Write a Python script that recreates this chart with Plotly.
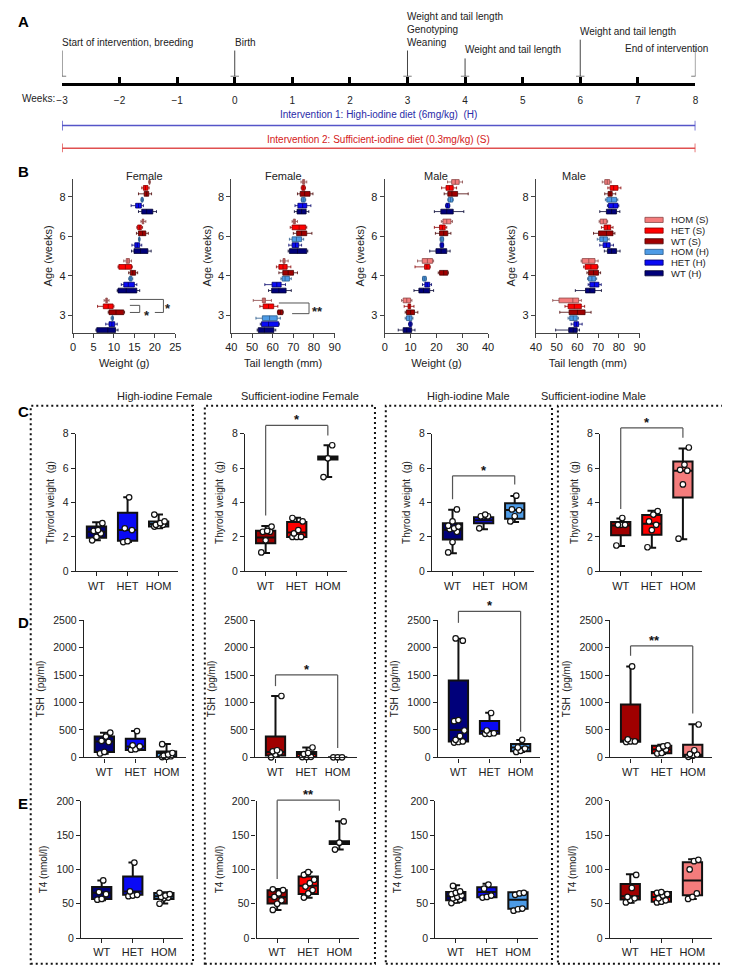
import plotly.graph_objects as go
import numpy as np

W, H = 730, 967
FONT = "Arial, 'Liberation Sans', Helvetica, sans-serif"

# ---------------- Panel A: timeline ----------------
weeks = list(range(-3, 9))
event_weeks = [-3, 0, 3, 4, 6, 8]
event_texts = ["Start of intervention, breeding", "Birth",
               "Weight and tail length<br>Genotyping<br>Weaning",
               "Weight and tail length", "Weight and tail length",
               "End of intervention"]
intervention_texts = ["Intervention 1: High-iodine diet (6mg/kg)  (H)",
                      "Intervention 2: Sufficient-iodine diet (0.3mg/kg) (S)"]
intervention_span = [-3, 8]

# ---------------- Panel B ----------------
ages = ["3", "4", "6", "8"]
groups = ["HOM (S)", "HET (S)", "WT (S)", "HOM (H)", "HET (H)", "WT (H)"]
# [age][group] = [min, q1, median, q3, max]
b_female_weight = [
    [[7.6, 8.0, 8.2, 8.4, 8.8], [6.0, 7.4, 8.6, 9.8, 10.0], [8.6, 8.8, 10.5, 12.4, 12.6],
     [9.3, 9.5, 9.6, 9.8, 9.9], [8.0, 8.8, 9.5, 10.2, 10.8], [5.6, 5.8, 8.5, 10.4, 11.0]],
    [[12.4, 13.0, 13.4, 13.8, 14.3], [11.0, 11.2, 12.8, 14.3, 14.5], [13.6, 14.0, 14.6, 15.3, 15.8],
     [13.6, 13.8, 14.1, 14.4, 14.6], [11.8, 12.4, 13.5, 15.0, 15.6], [10.8, 11.0, 13.0, 15.6, 16.3]],
    [[16.6, 16.9, 17.1, 17.3, 17.8], [15.6, 15.8, 16.3, 16.7, 17.0], [15.5, 16.0, 17.0, 17.8, 18.4],
     [16.0, 16.1, 16.2, 16.3, 16.4], [14.4, 15.1, 15.7, 16.3, 16.8], [14.3, 14.9, 16.5, 18.3, 19.1]],
    [[18.5, 18.6, 18.7, 18.8, 18.9], [16.8, 17.2, 17.7, 18.3, 18.6], [16.0, 17.4, 18.0, 18.5, 19.2],
     [16.6, 16.7, 16.9, 17.1, 17.2], [14.2, 15.3, 16.0, 16.7, 17.2], [16.0, 16.8, 18.0, 19.5, 20.4]],
]
b_female_tail = [
    [[50.6, 55.0, 55.8, 56.5, 59.4], [53.8, 55.4, 58.0, 60.5, 62.5], [62.3, 62.5, 63.7, 64.9, 65.1],
     [51.9, 55.0, 58.5, 62.2, 63.7], [54.0, 54.6, 58.0, 62.9, 63.2], [52.5, 53.0, 56.0, 60.6, 61.5]],
    [[63.7, 65.0, 65.5, 66.0, 67.5], [61.8, 63.0, 65.0, 67.0, 68.8], [63.0, 64.9, 67.5, 70.1, 72.0],
     [64.0, 64.6, 66.0, 68.1, 69.0], [56.2, 59.7, 62.0, 64.1, 66.2], [58.0, 59.5, 63.0, 66.5, 69.0]],
    [[69.4, 70.0, 70.5, 71.0, 72.0], [68.5, 69.4, 72.8, 76.0, 76.5], [70.0, 71.6, 74.0, 76.5, 79.0],
     [68.1, 69.4, 71.5, 74.0, 75.0], [67.8, 69.4, 71.0, 72.6, 74.0], [67.5, 68.1, 72.0, 76.5, 77.0]],
    [[73.7, 74.5, 75.0, 75.5, 76.5], [73.8, 74.1, 74.8, 75.6, 75.9], [72.0, 73.3, 75.5, 78.1, 79.5],
     [73.8, 74.0, 74.8, 75.7, 76.0], [70.8, 72.2, 74.5, 76.5, 78.5], [70.5, 71.8, 74.0, 76.2, 77.5]],
]
b_male_weight = [
    [[6.5, 7.1, 8.5, 10.0, 10.5], [7.5, 9.0, 9.5, 10.0, 11.3], [7.9, 8.4, 10.0, 11.5, 12.8],
     [7.9, 8.4, 9.5, 10.5, 10.9], [9.2, 9.4, 9.9, 10.4, 10.6], [5.2, 7.1, 8.5, 10.4, 11.7]],
    [[12.7, 14.5, 16.5, 18.5, 18.9], [11.7, 15.4, 16.3, 17.4, 17.6], [20.7, 21.2, 22.8, 24.4, 24.6],
     [14.6, 14.7, 15.3, 16.0, 16.1], [14.6, 15.5, 16.4, 17.4, 18.1], [11.3, 13.2, 15.0, 17.4, 18.9]],
    [[21.9, 22.5, 24.0, 25.6, 26.2], [19.2, 21.2, 22.3, 23.4, 24.0], [19.6, 21.2, 22.8, 24.4, 25.6],
     [21.4, 21.5, 22.1, 22.7, 22.8], [21.4, 21.5, 22.1, 22.7, 22.8], [17.4, 19.8, 21.8, 24.0, 25.3]],
    [[24.3, 25.9, 27.3, 28.8, 30.1], [22.0, 23.7, 25.0, 26.5, 27.8], [23.0, 24.4, 26.0, 28.2, 32.3],
     [24.4, 24.6, 25.4, 26.3, 26.5], [23.5, 23.7, 24.3, 25.0, 25.2], [19.2, 21.7, 24.0, 26.5, 30.6]],
]
b_male_tail = [
    [[48.1, 51.1, 57.8, 60.6, 61.9], [54.0, 55.5, 58.5, 61.9, 63.5], [51.5, 56.0, 60.0, 63.7, 66.6],
     [55.5, 56.3, 58.0, 59.9, 60.5], [57.0, 58.3, 59.5, 60.6, 62.3], [49.5, 55.8, 58.0, 59.9, 61.0]],
    [[61.8, 62.3, 65.5, 68.5, 70.0], [63.0, 63.7, 66.5, 69.7, 70.0], [64.6, 65.4, 67.8, 70.2, 71.2],
     [64.9, 65.4, 67.0, 68.7, 69.3], [65.2, 66.0, 68.2, 70.4, 71.5], [59.0, 63.9, 66.0, 68.5, 71.6]],
    [[70.5, 71.0, 72.5, 74.2, 74.6], [71.6, 72.9, 74.5, 76.1, 77.2], [67.8, 70.2, 74.0, 77.2, 78.1],
     [69.6, 70.8, 72.5, 74.5, 75.3], [70.8, 72.4, 74.0, 75.8, 77.4], [73.0, 74.5, 76.5, 78.9, 80.6]],
    [[72.0, 73.2, 74.4, 75.6, 76.3], [74.7, 75.8, 77.5, 79.6, 81.0], [73.2, 74.8, 75.8, 76.8, 78.5],
     [73.5, 74.2, 76.5, 78.9, 79.5], [74.5, 75.0, 77.3, 79.6, 80.0], [70.8, 74.0, 76.5, 78.9, 80.5]],
]

# ---------------- Panels C-E ----------------
genotypes = ["WT", "HET", "HOM"]
column_titles = ["High-iodine Female", "Sufficient-iodine Female",
                 "High-iodine Male", "Sufficient-iodine Male"]
# stats per genotype: [min, q1, median, q3, max]
tw_HF_stats = [[1.8, 1.95, 2.3, 2.6, 2.85], [1.7, 1.78, 2.4, 3.4, 4.3], [2.5, 2.6, 2.75, 2.9, 3.3]]
tw_HF_pts = [[1.8, 2.0, 2.2, 2.35, 2.4, 2.8], [1.7, 1.75, 2.4, 2.5, 4.3], [2.6, 2.65, 2.7, 2.7, 2.8, 2.9, 3.3]]
tw_SF_stats = [[1.07, 1.63, 1.97, 2.36, 2.64], [2.0, 2.0, 2.26, 2.87, 3.12], [5.48, 6.5, 6.57, 6.68, 7.33]]
tw_SF_pts = [[1.1, 1.8, 2.3, 2.3, 2.35, 2.6], [2.0, 2.0, 2.0, 2.2, 2.4, 2.9, 3.1], [5.48, 6.57, 7.33]]
tw_HM_stats = [[1.05, 1.85, 2.42, 2.8, 3.58], [2.44, 2.8, 2.97, 3.14, 3.27], [2.86, 3.05, 3.56, 3.96, 4.38]]
tw_HM_pts = [[1.1, 1.7, 2.3, 2.45, 2.5, 2.6, 2.65, 2.9, 3.6], [2.5, 3.2, 3.2, 3.2, 3.3], [2.9, 3.2, 3.55, 3.6, 4.4]]
tw_SM_stats = [[1.47, 2.1, 2.67, 2.86, 3.07], [1.37, 2.13, 2.76, 3.27, 3.52], [1.87, 4.29, 5.85, 6.38, 7.14]]
tw_SM_pts = [[1.5, 2.7, 2.7, 2.7, 3.1], [1.4, 2.4, 2.7, 2.9, 3.3, 3.5], [1.9, 5.05, 5.85, 5.9, 6.2, 7.2]]

tsh_HF_stats = [[67, 97, 290, 379, 451], [130, 135, 199, 338, 482], [0, 7, 79, 108, 242]]
tsh_HF_pts = [[70, 100, 280, 300, 380, 450], [140, 150, 200, 220, 480], [5, 10, 20, 30, 50, 80, 240]]
tsh_SF_stats = [[0, 36, 97, 379, 1119], [5, 7, 60, 97, 180], [0, 0, 0, 0, 0]]
tsh_SF_pts = [[0, 50, 90, 110, 130, 1120], [5, 5, 10, 60, 80, 180], [0, 0, 0]]
tsh_HM_stats = [[260, 289, 500, 1402, 2166], [422, 430, 482, 662, 812], [97, 110, 180, 242, 319]]
tsh_HM_pts = [[270, 280, 290, 320, 390, 490, 660, 680, 2130, 2170], [430, 430, 440, 490, 810], [100, 120, 160, 180, 320]]
tsh_SM_stats = [[278, 285, 295, 964, 1660], [61, 75, 144, 210, 229], [7, 10, 49, 229, 603]]
tsh_SM_pts = [[280, 290, 290, 330, 1660], [70, 80, 140, 160, 200, 220], [10, 30, 50, 60, 130, 600]]

t4_HF_stats = [[55, 57, 66, 74.4, 84], [61, 63, 68, 89.8, 110], [50.4, 57, 61, 65.8, 66.8]]
t4_HF_pts = [[56, 57, 64, 67, 84], [61, 62, 63, 68, 110], [50, 58, 59, 60, 62, 64, 66]]
t4_SF_stats = [[40.9, 50.4, 60, 69.6, 71.5], [58.6, 64.3, 76.3, 89.8, 96.4], [129, 137, 139.2, 141, 170.4]]
t4_SF_pts = [[41, 50, 55, 60, 65, 70, 71], [59, 65, 70, 75, 80, 85, 92, 96], [129, 139, 170]]
t4_HM_stats = [[51.4, 55.3, 61, 67.2, 76.8], [59.6, 59.6, 67.2, 74, 79], [40.3, 42.7, 56, 66.8, 66.8]]
t4_HM_pts = [[51, 55, 56, 58, 60, 62, 64, 66, 68, 76], [59, 60, 62, 72, 78], [40, 42, 43, 63, 65, 66]]
t4_SM_stats = [[51.4, 56.1, 61, 78.7, 93.1], [52.8, 52.8, 60, 67.2, 67.2], [57, 62.4, 84, 110.4, 115]]
t4_SM_pts = [[52, 55, 58, 60, 73, 92], [52, 53, 55, 58, 62, 64, 66, 67], [57, 60, 65, 100, 112, 114]]

# ---------------- styling ----------------
group_colors = ["#F47C7C", "#FF0000", "#A00000", "#4D9BE6", "#0A0AF5", "#00007A"]
group_edges = ["#8a4848", "#8a0000", "#4a0000", "#2a5a8a", "#00006a", "#000030"]
pal_H = ["#00007A", "#0A0AF5", "#4D9BE6"]
pal_S = ["#A00000", "#FF0000", "#F47C7C"]

fig = go.Figure()
layout = dict(width=W, height=H, margin=dict(l=0, r=0, t=0, b=0),
              paper_bgcolor="white", plot_bgcolor="white", showlegend=False,
              barmode="overlay", font=dict(family=FONT, size=10, color="#222"))
shapes, annots = [], []
ax_n = [0]


def add_axes(xpx, ypx, xo, yo):
    ax_n[0] += 1
    n = ax_n[0]
    s = "" if n == 1 else str(n)
    xd = dict(domain=[xpx[0] / W, xpx[1] / W], anchor="y" + s, showgrid=False, zeroline=False)
    xd.update(xo)
    yd = dict(domain=[1 - ypx[1] / H, 1 - ypx[0] / H], anchor="x" + s, showgrid=False, zeroline=False)
    yd.update(yo)
    layout["xaxis" + s] = xd
    layout["yaxis" + s] = yd
    return "x" + s, "y" + s


def paper_y(py):
    return 1 - py / H


def paper_x(px):
    return px / W


# ---------------- Panel A ----------------
xa, ya = add_axes((48.8, 692.8), (0, 140),
                  dict(range=[-3, 8], anchor="free", position=paper_y(71), showline=True,
                       linewidth=3, linecolor="black", ticks="inside", ticklen=6, tickwidth=2.5,
                       tickcolor="black", tickvals=weeks, tickfont=dict(size=10, color="#222"),
                       ticklabelstandoff=6),
                  dict(range=[140, 0], visible=False))
line_tops = [37, 37, 37, 45, 26, 32]
for w, txt, top in zip(event_weeks, event_texts, line_tops):
    fig.add_trace(go.Scatter(x=[w, w], y=[top, 63], mode="lines+markers", xaxis=xa, yaxis=ya,
                             line=dict(color="#444", width=1),
                             marker=dict(symbol="line-ew", size=[0, 6], line=dict(color="#444", width=1)),
                             hoverinfo="skip"))
    if w == 8:
        annots.append(dict(x=w, y=top + 3, xref=xa, yref=ya, text=txt, showarrow=False,
                           xanchor="right", yanchor="middle", xshift=15, font=dict(size=10)))
    else:
        annots.append(dict(x=w, y=top - 1, xref=xa, yref=ya, text=txt, showarrow=False,
                           xanchor="left", yanchor="bottom", xshift=-2, align="left",
                           font=dict(size=10)))
annots.append(dict(x=paper_x(44), y=paper_y(86), xref="paper", yref="paper", text="Weeks:",
                   showarrow=False, xanchor="right", yanchor="middle", font=dict(size=10)))
for txt, ty, ly, tc, lc in [(intervention_texts[0], 102, 113, "#2a2aa8", "#5555c8"),
                            (intervention_texts[1], 127, 136, "#d42020", "#e05050")]:
    fig.add_trace(go.Scatter(x=intervention_span, y=[ly, ly], mode="lines+markers", xaxis=xa, yaxis=ya,
                             line=dict(color=lc, width=1.5),
                             marker=dict(symbol="line-ns", size=7, line=dict(color=lc, width=1.5)),
                             hoverinfo="skip"))
    annots.append(dict(x=2.5, y=ty, xref=xa, yref=ya, text=txt, showarrow=False,
                       font=dict(size=10, color=tc)))

# ---------------- Panel B ----------------
offsets = [0.375, 0.225, 0.075, -0.075, -0.225, -0.375]
b_specs = [
    (b_female_weight, (60, 164), [0, 25], 5, "Female", "Weight (g)"),
    (b_female_tail, (221, 326), [40, 90], 10, "Female", "Tail length (mm)"),
    (b_male_weight, (377, 482), [0, 40], 10, "Male", "Weight (g)"),
    (b_male_tail, (530.7, 636), [40, 90], 10, "Male", "Tail length (mm)"),
]
b_axes = []
for data, xpx, xr, dt, title, xtitle in b_specs:
    bx, by = add_axes(xpx, (166.7, 323),
                      dict(range=xr, dtick=dt, showline=True, linecolor="#444", linewidth=1.3,
                           ticks="outside", ticklen=4, tickcolor="#444", tickfont=dict(size=11),
                           title=dict(text=xtitle, font=dict(size=11), standoff=6)),
                      dict(range=[-0.45, 3.46], tickvals=[0, 1, 2, 3], ticktext=ages, showline=True,
                           linecolor="#444", linewidth=1.3, ticks="outside", ticklen=4,
                           tickcolor="#444", tickfont=dict(size=11),
                           title=dict(text="Age (weeks)", font=dict(size=11), standoff=4)))
    b_axes.append((bx, by))
    annots.append(dict(x=paper_x((xpx[0] + xpx[1]) / 2), y=paper_y(156), xref="paper", yref="paper",
                       text=title, showarrow=False, font=dict(size=11)))
    for k in range(len(ages)):
        for g in range(len(groups)):
            mn, q1, md, q3, mx = data[k][g]
            fig.add_trace(go.Box(orientation="h", y=[k + offsets[g]], q1=[q1], median=[md], q3=[q3],
                                 lowerfence=[mn], upperfence=[mx], width=0.12, whiskerwidth=0.6,
                                 fillcolor=group_colors[g], line=dict(color=group_edges[g], width=0.8),
                                 boxpoints=False, xaxis=bx, yaxis=by, hoverinfo="skip"))

# B brackets
bx1, by1 = b_axes[0]
for pts in ([(13.9, 0.4), (22.1, 0.4), (22.1, 0.07), (20.0, 0.07)],
            [(13.9, 0.25), (16.3, 0.25), (16.3, 0.07), (13.9, 0.07)]):
    for (x0, y0), (x1, y1) in zip(pts[:-1], pts[1:]):
        shapes.append(dict(type="line", xref=bx1, yref=by1, x0=x0, y0=y0, x1=x1, y1=y1,
                           line=dict(color="#555", width=1)))
annots.append(dict(x=23.3, y=0.25, xref=bx1, yref=by1, text="<b>*</b>", showarrow=False,
                   font=dict(size=13), yshift=-3))
annots.append(dict(x=18.0, y=0.08, xref=bx1, yref=by1, text="<b>*</b>", showarrow=False,
                   font=dict(size=13), yshift=-3))
bx2, by2 = b_axes[1]
pts = [(63.0, 0.31), (77.6, 0.31), (77.6, 0.04), (69.4, 0.04)]
for (x0, y0), (x1, y1) in zip(pts[:-1], pts[1:]):
    shapes.append(dict(type="line", xref=bx2, yref=by2, x0=x0, y0=y0, x1=x1, y1=y1,
                       line=dict(color="#555", width=1)))
annots.append(dict(x=81.5, y=0.17, xref=bx2, yref=by2, text="<b>**</b>", showarrow=False,
                   font=dict(size=13), yshift=-3))

# legend (custom, compact)
lx, ly = add_axes((638, 728), (202, 268), dict(range=[638, 728], visible=False),
                  dict(range=[268, 202], visible=False))
legend_y = [208.5, 219.3, 230.1, 240.9, 251.7, 262.5]
for g, yy in enumerate(legend_y):
    fig.add_trace(go.Bar(orientation="h", y=[yy], x=[18.5], base=[641.5], width=5.2,
                         marker=dict(color=group_colors[g], line=dict(color=group_edges[g], width=0.8)),
                         xaxis=lx, yaxis=ly, hoverinfo="skip"))
    annots.append(dict(x=666, y=yy, xref=lx, yref=ly, text=groups[g], showarrow=False,
                       xanchor="left", yanchor="middle", font=dict(size=9.5)))

# ---------------- Panels C-E ----------------
rows = [
    dict(ypx=(425, 564.3), rng=[0, 8], dtick=2, title="Thyroid weight  (g)", left=[63, 235, 425, 596],
         stats=[tw_HF_stats, tw_SF_stats, tw_HM_stats, tw_SM_stats],
         pts=[tw_HF_pts, tw_SF_pts, tw_HM_pts, tw_SM_pts]),
    dict(ypx=(614, 752.7), rng=[0, 2500], dtick=500, title="TSH  (pg/ml)", left=[71, 245, 431, 606],
         stats=[tsh_HF_stats, tsh_SF_stats, tsh_HM_stats, tsh_SM_stats],
         pts=[tsh_HF_pts, tsh_SF_pts, tsh_HM_pts, tsh_SM_pts]),
    dict(ypx=(796.7, 935.7), rng=[0, 200], dtick=50, title="T4 (nmol/l)", left=[68.3, 246.7, 428.3, 605.7],
         stats=[t4_HF_stats, t4_SF_stats, t4_HM_stats, t4_SM_stats],
         pts=[t4_HF_pts, t4_SF_pts, t4_HM_pts, t4_SM_pts]),
]
palettes = [pal_H, pal_S, pal_H, pal_S]
XR = [-0.66, 2.63]
XW = 104
grid_axes = {}
for r, row in enumerate(rows):
    for c in range(4):
        left = row["left"][c]
        cx, cy = add_axes((left, left + XW), row["ypx"],
                          dict(range=XR, tickvals=[0, 1, 2], ticktext=genotypes, showline=True,
                               linecolor="#222", linewidth=1.3, ticks="outside", ticklen=4,
                               tickcolor="#222", tickfont=dict(size=11, color="#222")),
                          dict(range=row["rng"], dtick=row["dtick"], showline=True, linecolor="#222",
                               linewidth=1.3, ticks="outside", ticklen=4, tickcolor="#222",
                               tickfont=dict(size=10.5, color="#222"),
                               title=dict(text=row["title"], font=dict(size=10), standoff=6)))
        grid_axes[(r, c)] = (cx, cy)
        for gi in range(3):
            mn, q1, md, q3, mx = row["stats"][c][gi]
            fig.add_trace(go.Box(x=[gi], q1=[q1], median=[md], q3=[q3], lowerfence=[mn], upperfence=[mx],
                                 width=0.62, whiskerwidth=0.45, fillcolor=palettes[c][gi],
                                 line=dict(color="#111", width=2), boxpoints=False,
                                 xaxis=cx, yaxis=cy, hoverinfo="skip"))
            vals = row["pts"][c][gi]
            n = len(vals)
            jit = np.array([((i % 3) - 1) * 0.14 + (0.05 if (i // 3) % 2 else 0) for i in range(n)])
            fig.add_trace(go.Scatter(x=gi + jit, y=vals, mode="markers", cliponaxis=False,
                                     marker=dict(size=5.5, color="white", line=dict(color="#111", width=1.2)),
                                     xaxis=cx, yaxis=cy, hoverinfo="skip"))

# significance brackets in C-E: (row, col, top, wt_bottom, hom_bottom, label)
sig = [(0, 1, 8.48, 3.24, 7.9, "*"), (0, 2, 5.55, 4.19, 5.05, "*"), (0, 3, 8.34, 3.62, 7.77, "*"),
       (1, 1, 1505, 1300, 170, "*"), (1, 2, 2666, 2455, 469, "*"), (1, 3, 2034, 1854, 801, "**"),
       (2, 1, 201, 86, 185.6, "**")]
for r, c, top, ya_, yb_, lab in sig:
    rng = rows[r]["rng"]
    y0px, y1px = rows[r]["ypx"]
    left = rows[r]["left"][c]

    def px_of(cat):
        return left + (cat - XR[0]) / (XR[1] - XR[0]) * XW

    def py_of(v):
        return y1px - (v - rng[0]) / (rng[1] - rng[0]) * (y1px - y0px)

    segs = [((0, ya_), (0, top)), ((0, top), (2, top)), ((2, top), (2, yb_))]
    for (x0, v0), (x1, v1) in segs:
        shapes.append(dict(type="line", xref="paper", yref="paper",
                           x0=paper_x(px_of(x0)), y0=paper_y(py_of(v0)),
                           x1=paper_x(px_of(x1)), y1=paper_y(py_of(v1)),
                           line=dict(color="#555", width=1.2)))
    annots.append(dict(x=paper_x(px_of(1)), y=paper_y(py_of(top)), xref="paper", yref="paper",
                       text="<b>" + lab + "</b>", showarrow=False,
                       yanchor="bottom", yshift=-4, font=dict(size=13, color="#111")))

# column titles and dotted frames
title_x = [103, 290.7, 461.7, 645]
frames = [(17, 182), (194, 367), (378, 547), (553, 727)]
for t, tx, (f0, f1) in zip(column_titles, title_x, frames):
    annots.append(dict(x=paper_x(tx), y=paper_y(386.7), xref="paper", yref="paper", text=t,
                       showarrow=False, font=dict(size=11)))
    shapes.append(dict(type="rect", xref="paper", yref="paper", x0=paper_x(f0), x1=paper_x(f1),
                       y0=paper_y(961.7), y1=paper_y(396.7),
                       line=dict(color="#111", width=2, dash="2px,3px")))

# panel letters
for lab, py in [("A", 8), ("B", 159), ("C", 403), ("D", 616), ("E", 799)]:
    annots.append(dict(x=paper_x(2), y=paper_y(py), xref="paper", yref="paper", text="<b>" + lab + "</b>",
                       showarrow=False, xanchor="left", yanchor="middle",
                       font=dict(size=15, color="black", family="Arial Black, " + FONT)))

layout["shapes"] = shapes
layout["annotations"] = annots
fig.update_layout(**layout)
fig.write_html("out.html")
